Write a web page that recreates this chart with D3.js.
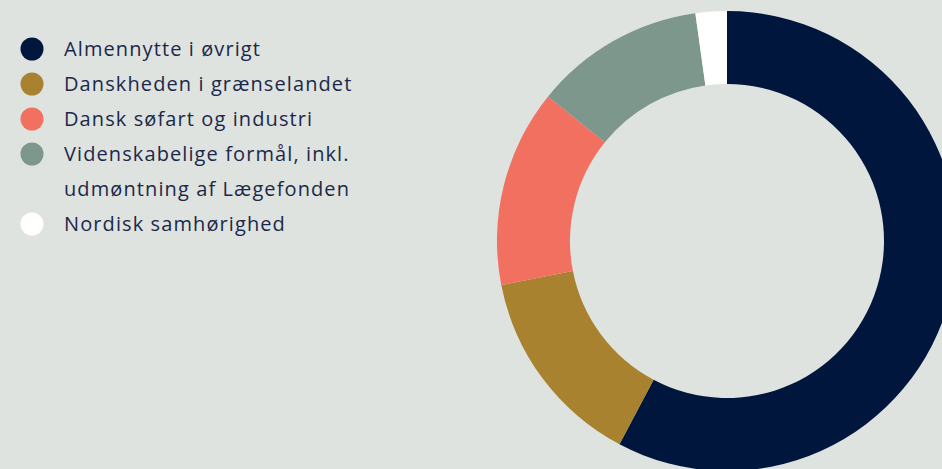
<!DOCTYPE html>
<html>
<head>
<meta charset="utf-8">
<script src="https://cdn.jsdelivr.net/npm/d3@7"></script>
<style>
  html, body { margin: 0; padding: 0; background: #dee3e0; }
  svg { display: block; }
</style>
</head>
<body>
<div id="chart"></div>
<script>
// categories + shares (percent)
const labels = [
    ["Almennytte i øvrigt"],
    ["Danskheden i grænselandet"],
    ["Dansk søfart og industri"],
    ["Videnskabelige formål, inkl.", "udmøntning af Lægefonden"],
    ["Nordisk samhørighed"]
];
const shares = [57.8, 14.2, 13.9, 12.0, 2.2];
const colors = ["#00163c", "#a8822e", "#f2705f", "#7e978c", "#ffffff"];

const width = 942, height = 469;

const svg = d3.select("#chart").append("svg")
    .attr("width", width)
    .attr("height", height);

svg.append("rect")
    .attr("width", width)
    .attr("height", height)
    .attr("fill", "#dee3e0");

const data = shares.map((v, i) => ({ value: v, lines: labels[i], color: colors[i] }));

// donut
const pie = d3.pie().value(d => d.value).sort(null);
const arc = d3.arc().innerRadius(157).outerRadius(230);

const ring = svg.append("g")
    .attr("transform", "translate(727, 241)");

ring.selectAll("path")
    .data(pie(data))
    .join("path")
    .attr("d", arc)
    .attr("fill", d => d.data.color);

// legend
const legend = svg.append("g").attr("class", "legend");
let y = 49;
data.forEach(d => {
    legend.append("circle")
        .attr("cx", 32)
        .attr("cy", y)
        .attr("r", 11.5)
        .attr("fill", d.color);
    d.lines.forEach((line, j) => {
        legend.append("text")
            .attr("x", 64)
            .attr("y", y + j * 35)
            .attr("dy", "0.35em")
            .style("font-family", "'Open Sans', 'Noto Sans', sans-serif")
            .style("font-weight", 400)
            .style("font-size", "20px")
            .style("letter-spacing", "1.1px")
            .style("fill", "#1c2849")
            .text(line);
    });
    y += 35 * d.lines.length;
});
</script>
</body>
</html>
